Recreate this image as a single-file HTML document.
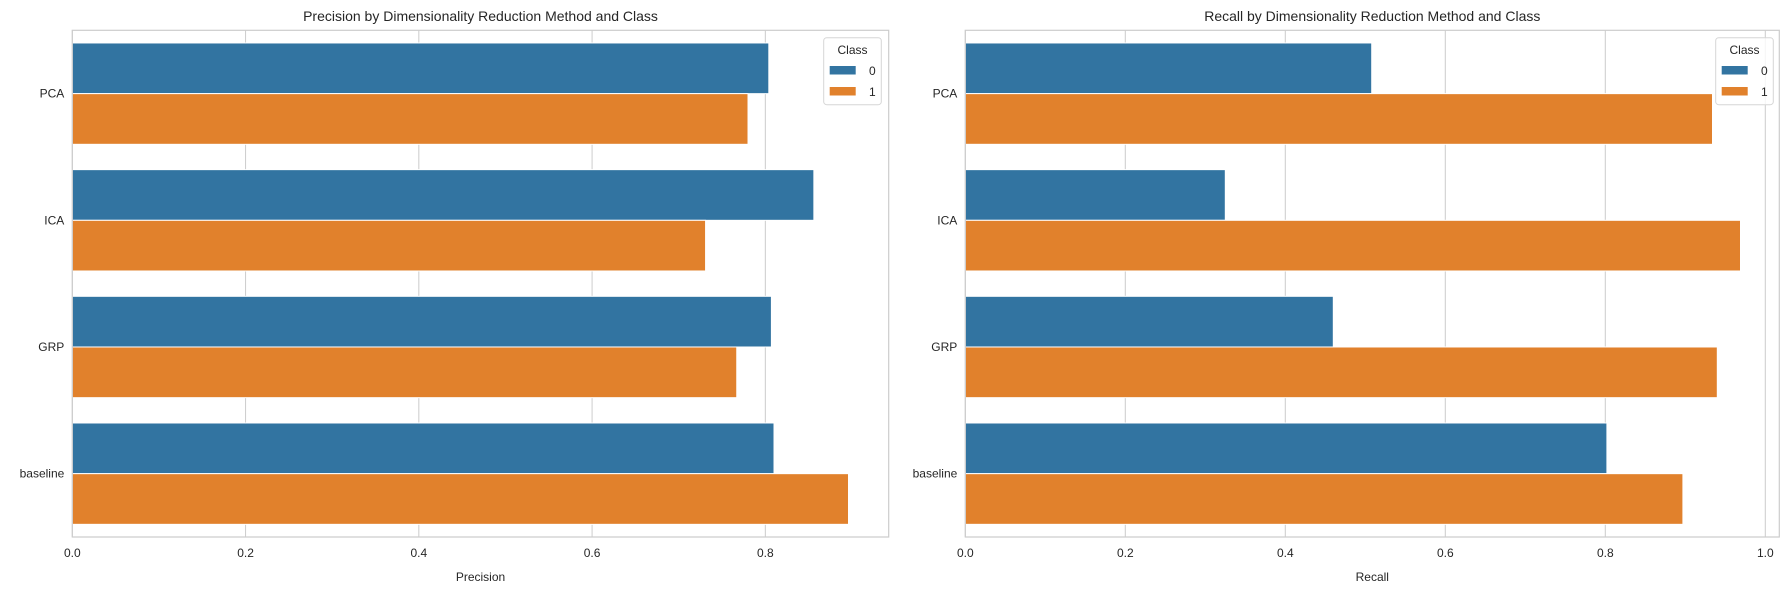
<!DOCTYPE html>
<html><head><meta charset="utf-8"><style>
body{margin:0;background:#fff;}
svg{display:block;font-family:"Liberation Sans",Arial,sans-serif;}
</style></head><body>
<svg id="c" width="1789" height="590" xmlns="http://www.w3.org/2000/svg"></svg>
<script>
const categories = ["PCA","ICA","GRP","baseline"];
const precisionClass0 = [0.804, 0.856, 0.807, 0.810];
const precisionClass1 = [0.780, 0.731, 0.767, 0.896];
const recallClass0 = [0.508, 0.325, 0.460, 0.802];
const recallClass1 = [0.934, 0.969, 0.940, 0.897];
const xTicks = [0, 0.2, 0.4, 0.6, 0.8, 1.0];
const xTickLabels = ["0.0","0.2","0.4","0.6","0.8","1.0"];
const legendLabels = ["0","1"];

const svg = document.getElementById('c');
const NS = "http://www.w3.org/2000/svg";
const colors = ["#3274a1","#e1812c"];
function mk(tag, attrs, parent){
  const e = document.createElementNS(NS, tag);
  for (const k in attrs) e.setAttribute(k, attrs[k]);
  (parent||svg).appendChild(e);
  return e;
}
function panel(cfg){
  const g = mk('g', {});
  
  
  const L = cfg.left, R = cfg.right, T = 30.3, B = 537;
  const xs = v => L + (v / cfg.xmax) * (R - L);
  const band = (B - T) / categories.length;
  const yb = i => T + band * i;
  // grid
  xTicks.forEach((t, i) => {
    if (t > cfg.xmax) return;
    const x = xs(t);
    const gl = mk('line', {x1:x, x2:x, y1:T, y2:B, stroke:'#cccccc', 'stroke-width':1}, g);
    
    
    const tl = mk('text', {x:x, y:557, 'font-size':12, fill:'#262626', 'text-anchor':'middle'}, g);
    tl.textContent = xTickLabels[i];
    
    
  });
  // bars
  categories.forEach((c, i) => {
    const y0 = yb(i) + band * 0.1, h = band * 0.4;
    [cfg.s0[i], cfg.s1[i]].forEach((v, k) => {
      const r = mk('rect', {x:L, y:y0 + k*h, width:xs(v)-L, height:h, fill:colors[k], stroke:'#ffffff', 'stroke-width':1}, g);
      
      
    });
    const cl = mk('text', {x:L-8, y:yb(i)+band/2+4, 'font-size':12, fill:'#262626', 'text-anchor':'end'}, g);
    cl.textContent = c;
    
    
  });
  const fr = mk('rect', {x:L, y:T, width:R-L, height:B-T, fill:'none', stroke:'#cccccc', 'stroke-width':1.2}, g);
  
  
  const tt = mk('text', {x:(L+R)/2, y:21, 'font-size':14, fill:'#262626', 'text-anchor':'middle'}, g);
  tt.textContent = cfg.title;
  
  
  const xl = mk('text', {x:(L+R)/2, y:581, 'font-size':12, fill:'#262626', 'text-anchor':'middle'}, g);
  xl.textContent = cfg.xlabel;
  
  
  // legend
  const lx = cfg.legendX;
  const lg = mk('g', {}, g);
  
  
  mk('rect', {x:lx, y:37.7, width:57.6, height:67, rx:3, fill:'#ffffff', 'fill-opacity':0.8, stroke:'#d6d6d6', 'stroke-width':1}, lg);
  const lt = mk('text', {x:lx+28.8, y:54, 'font-size':12, fill:'#262626', 'text-anchor':'middle'}, lg);
  lt.textContent = 'Class';
  legendLabels.forEach((lab, k) => {
    const p = mk('rect', {x:lx+6, y:66+k*21, width:26, height:8.5, fill:colors[k]}, lg);
    
    
    const t = mk('text', {x:lx+52, y:75+k*21, 'font-size':12, fill:'#262626', 'text-anchor':'end'}, lg);
    t.textContent = lab;
  });
}
panel({name:'precision-panel', left:72.3, right:888.7, xmax:0.9424, s0:precisionClass0, s1:precisionClass1,
  title:'Precision by Dimensionality Reduction Method and Class', xlabel:'Precision', legendX:823.7});
panel({name:'recall-panel', left:965.3, right:1779.3, xmax:1.0175, s0:recallClass0, s1:recallClass1,
  title:'Recall by Dimensionality Reduction Method and Class', xlabel:'Recall', legendX:1715.7});
</script>
</body></html>
